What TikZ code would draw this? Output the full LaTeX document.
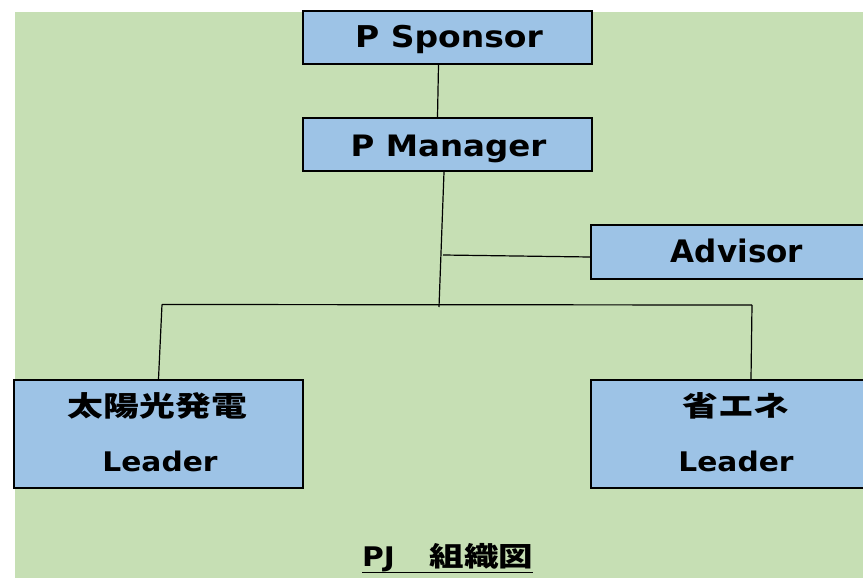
\documentclass[tikz,border=0pt]{standalone}
\usepackage{fontspec}
\newfontfamily\latA{DejaVu Sans}[FakeStretch=1.1]
\newfontfamily\latB{DejaVu Sans}[FakeStretch=1.0]
\newfontfamily\jp{Noto Sans CJK JP}[FakeStretch=1.28]
\definecolor{bggreen}{HTML}{C6DFB4}
\definecolor{boxblue}{HTML}{9DC3E6}
\tikzset{
  box/.style={draw=black, line width=2.1pt, fill=boxblue, inner sep=0pt},
  conn/.style={draw=black, line width=1.2pt},
  txt/.style={inner sep=0pt, text=black},
}
\begin{document}
\begin{tikzpicture}[x=1pt,y=-1pt]
\useasboundingbox (0,0) rectangle (863,578);
\begin{scope}
\clip (0,0) rectangle (863,578);
\fill[white] (0,0) rectangle (863,578);
\fill[bggreen] (15,12) rectangle (863,578);

% boxes
\node[box, minimum width=289pt, minimum height=53pt] (sponsor) at (447.5,37.5) {};
\node[box, minimum width=289pt, minimum height=53pt] (manager) at (447.5,144.5) {};
\node[box, minimum width=290pt, minimum height=54pt] (advisor) at (736,252) {};
\node[box, minimum width=289pt, minimum height=108pt] (solar) at (158.5,434) {};
\node[box, minimum width=290pt, minimum height=108pt] (save) at (736,434) {};

% texts
\node[txt, anchor=base, font=\latA\bfseries\fontsize{30}{32}\selectfont] (sponsorT) at (449,48) {P Sponsor};
\node[txt, anchor=base, font=\latA\bfseries\fontsize{29.5}{32}\selectfont] (managerT) at (448.5,156) {P Manager};
\node[txt, anchor=base, font=\latB\bfseries\fontsize{31}{33}\selectfont] (advisorT) at (737,262) {Advisor};
\node[txt, font=\jp\bfseries\fontsize{28}{30}\selectfont] (solarJ) at (157.5,405.5) {太陽光発電};
\node[txt, anchor=base, font=\latA\bfseries\fontsize{27}{29}\selectfont] (solarL) at (160,471) {Leader};
\node[txt, font=\jp\bfseries\fontsize{28}{30}\selectfont] (saveJ) at (736,406) {省エネ};
\node[txt, anchor=base, font=\latA\bfseries\fontsize{27}{29}\selectfont] (saveL) at (736,471.5) {Leader};

% title
\node[txt, anchor=base west] (title) at (362,566)
  {\latA\bfseries\fontsize{27}{29}\selectfont PJ\jp\bfseries\fontsize{27}{29}\selectfont 　組織図};
\draw[line width=1.7pt] ([yshift=-6.5pt]title.base west) -- ([yshift=-6.5pt]title.base east);

% connectors
\coordinate (jn) at (439,307);
\coordinate (ja) at (443,255);
\coordinate (hl) at (162,304.5);
\coordinate (hr) at (752,305);
\draw[conn] ([xshift=-9pt]sponsor.south) -- ([xshift=-10pt]manager.north);
\draw[conn] ([xshift=-3.5pt]manager.south) -- (jn);
\draw[conn] (ja) -- ([yshift=-5pt]advisor.west);
\draw[conn] (hl) -- (hr);
\draw[conn] (hl) -- (solar.north);
\draw[conn] (hr) -- ([xshift=15pt]save.north);
\end{scope}
\end{tikzpicture}
\end{document}
